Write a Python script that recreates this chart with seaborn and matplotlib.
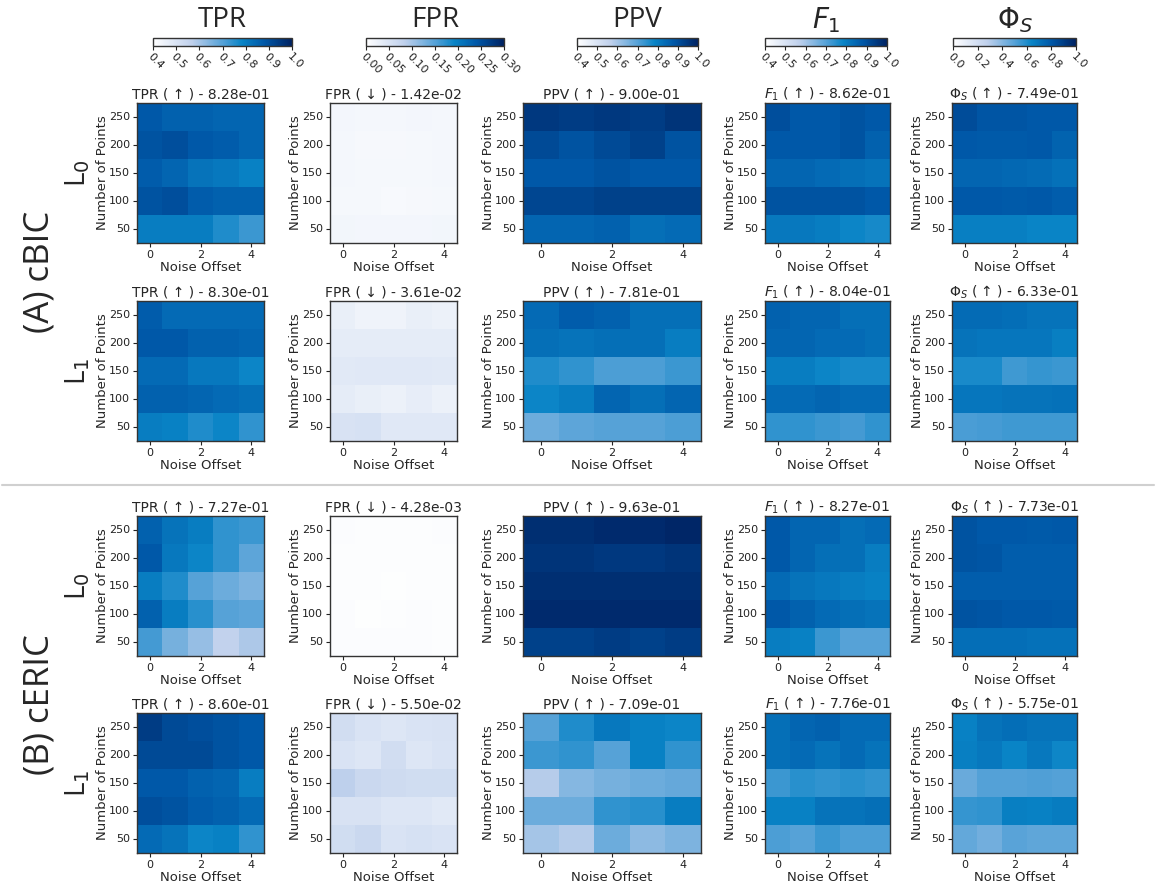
import numpy as np
import pandas as pd
import matplotlib
matplotlib.use("Agg")
import matplotlib.pyplot as plt
import seaborn as sns
from matplotlib.colors import LinearSegmentedColormap, Normalize
from matplotlib.cm import ScalarMappable

# ---------------- data ----------------
noise_offsets = [0, 1, 2, 3, 4]
n_points = [250, 200, 150, 100, 50]          # top row first
metrics = ["TPR", "FPR", "PPV", "F1", "PhiS"]
metric_labels = ["TPR", "FPR", "PPV", "$F_1$", r"$\Phi_S$"]
metric_arrows = ["↑", "↓", "↑", "↑", "↑"]
metric_ranges = [(0.4, 1.0), (0.0, 0.30), (0.4, 1.0), (0.4, 1.0), (0.0, 1.0)]
metric_ticks = [
    [0.4, 0.5, 0.6, 0.7, 0.8, 0.9, 1.0],
    [0.00, 0.05, 0.10, 0.15, 0.20, 0.25, 0.30],
    [0.4, 0.5, 0.6, 0.7, 0.8, 0.9, 1.0],
    [0.4, 0.5, 0.6, 0.7, 0.8, 0.9, 1.0],
    [0.0, 0.2, 0.4, 0.6, 0.8, 1.0],
]
metric_tickfmt = ["{:.1f}", "{:.2f}", "{:.1f}", "{:.1f}", "{:.1f}"]

methods = ["(A) cBIC", "(B) cERIC"]
penalties = ["L$_0$", "L$_1$"]

# overall scores shown in panel titles (rows: cBIC L0, cBIC L1, cERIC L0, cERIC L1)
overall_scores = [
    [8.28e-01, 1.42e-02, 9.00e-01, 8.62e-01, 7.49e-01],
    [8.30e-01, 3.61e-02, 7.81e-01, 8.04e-01, 6.33e-01],
    [7.27e-01, 4.28e-03, 9.63e-01, 8.27e-01, 7.73e-01],
    [8.60e-01, 5.50e-02, 7.09e-01, 7.76e-01, 5.75e-01],
]

# ---- cBIC, L0 ----
cbic_l0_tpr = [[0.88, 0.86, 0.86, 0.85, 0.85],
               [0.89, 0.90, 0.88, 0.87, 0.85],
               [0.87, 0.85, 0.82, 0.81, 0.79],
               [0.89, 0.90, 0.87, 0.86, 0.86],
               [0.80, 0.80, 0.80, 0.76, 0.73]]
cbic_l0_fpr = [[0.016, 0.015, 0.015, 0.016, 0.015],
               [0.015, 0.012, 0.012, 0.014, 0.015],
               [0.015, 0.014, 0.013, 0.014, 0.015],
               [0.014, 0.013, 0.011, 0.012, 0.013],
               [0.017, 0.016, 0.016, 0.016, 0.017]]
cbic_l0_ppv = [[0.95, 0.94, 0.95, 0.94, 0.96],
               [0.91, 0.89, 0.91, 0.93, 0.89],
               [0.88, 0.88, 0.89, 0.88, 0.88],
               [0.92, 0.92, 0.93, 0.93, 0.93],
               [0.85, 0.85, 0.86, 0.83, 0.84]]
cbic_l0_f1 = [[0.90, 0.88, 0.88, 0.89, 0.88],
              [0.88, 0.88, 0.88, 0.89, 0.86],
              [0.85, 0.85, 0.84, 0.83, 0.82],
              [0.89, 0.89, 0.89, 0.89, 0.88],
              [0.81, 0.81, 0.80, 0.78, 0.77]]
cbic_l0_phi = [[0.84, 0.81, 0.81, 0.80, 0.80],
               [0.80, 0.79, 0.79, 0.80, 0.76],
               [0.75, 0.75, 0.74, 0.73, 0.71],
               [0.80, 0.80, 0.79, 0.80, 0.78],
               [0.66, 0.66, 0.66, 0.64, 0.64]]

# ---- cBIC, L1 ----
cbic_l1_tpr = [[0.87, 0.84, 0.84, 0.84, 0.84],
               [0.88, 0.88, 0.86, 0.86, 0.85],
               [0.84, 0.84, 0.81, 0.81, 0.78],
               [0.86, 0.86, 0.85, 0.84, 0.83],
               [0.80, 0.79, 0.76, 0.78, 0.74]]
cbic_l1_fpr = [[0.030, 0.022, 0.022, 0.030, 0.025],
               [0.035, 0.035, 0.035, 0.035, 0.035],
               [0.040, 0.042, 0.042, 0.042, 0.040],
               [0.035, 0.030, 0.025, 0.032, 0.025],
               [0.052, 0.055, 0.042, 0.042, 0.042]]
cbic_l1_ppv = [[0.84, 0.87, 0.86, 0.83, 0.83],
               [0.83, 0.82, 0.83, 0.83, 0.80],
               [0.76, 0.74, 0.71, 0.71, 0.73],
               [0.78, 0.80, 0.85, 0.83, 0.85],
               [0.67, 0.69, 0.70, 0.70, 0.71]]
cbic_l1_f1 = [[0.86, 0.85, 0.85, 0.83, 0.83],
              [0.85, 0.85, 0.84, 0.84, 0.83],
              [0.80, 0.80, 0.78, 0.77, 0.77],
              [0.84, 0.84, 0.85, 0.84, 0.84],
              [0.74, 0.74, 0.73, 0.72, 0.74]]
cbic_l1_phi = [[0.73, 0.73, 0.72, 0.70, 0.70],
               [0.70, 0.69, 0.69, 0.69, 0.66],
               [0.61, 0.61, 0.54, 0.56, 0.55],
               [0.69, 0.69, 0.70, 0.70, 0.71],
               [0.52, 0.53, 0.54, 0.54, 0.54]]

# ---- cERIC, L0 ----
ceric_l0_tpr = [[0.86, 0.82, 0.80, 0.74, 0.73],
                [0.88, 0.81, 0.78, 0.74, 0.69],
                [0.80, 0.76, 0.70, 0.67, 0.65],
                [0.86, 0.80, 0.75, 0.70, 0.69],
                [0.72, 0.66, 0.62, 0.56, 0.59]]
ceric_l0_fpr = [[0.005, 0.004, 0.004, 0.004, 0.005],
                [0.004, 0.004, 0.004, 0.004, 0.004],
                [0.004, 0.004, 0.003, 0.004, 0.004],
                [0.005, 0.003, 0.004, 0.005, 0.004],
                [0.005, 0.005, 0.005, 0.005, 0.004]]
ceric_l0_ppv = [[0.97, 0.97, 0.98, 0.98, 0.99],
                [0.96, 0.96, 0.95, 0.95, 0.96],
                [0.97, 0.97, 0.97, 0.97, 0.97],
                [0.98, 0.98, 0.98, 0.98, 0.98],
                [0.93, 0.93, 0.94, 0.93, 0.94]]
ceric_l0_f1 = [[0.88, 0.85, 0.85, 0.83, 0.84],
               [0.88, 0.85, 0.83, 0.83, 0.80],
               [0.84, 0.82, 0.81, 0.80, 0.79],
               [0.88, 0.86, 0.84, 0.83, 0.82],
               [0.80, 0.79, 0.73, 0.70, 0.70]]
ceric_l0_phi = [[0.82, 0.80, 0.80, 0.79, 0.80],
                [0.82, 0.81, 0.78, 0.78, 0.78],
                [0.78, 0.78, 0.78, 0.78, 0.78],
                [0.82, 0.81, 0.80, 0.80, 0.79],
                [0.72, 0.72, 0.72, 0.71, 0.71]]

# ---- cERIC, L1 ----
ceric_l1_tpr = [[0.94, 0.91, 0.90, 0.89, 0.88],
                [0.91, 0.91, 0.91, 0.89, 0.88],
                [0.88, 0.88, 0.86, 0.85, 0.80],
                [0.90, 0.89, 0.87, 0.86, 0.84],
                [0.84, 0.82, 0.78, 0.79, 0.74]]
ceric_l1_fpr = [[0.060, 0.050, 0.045, 0.050, 0.052],
                [0.050, 0.045, 0.060, 0.045, 0.050],
                [0.085, 0.070, 0.065, 0.062, 0.062],
                [0.052, 0.052, 0.045, 0.045, 0.040],
                [0.062, 0.070, 0.050, 0.055, 0.050]]
ceric_l1_ppv = [[0.70, 0.76, 0.81, 0.79, 0.78],
                [0.73, 0.74, 0.70, 0.79, 0.74],
                [0.58, 0.64, 0.66, 0.67, 0.68],
                [0.67, 0.67, 0.74, 0.75, 0.80],
                [0.60, 0.58, 0.67, 0.63, 0.65]]
ceric_l1_f1 = [[0.83, 0.85, 0.86, 0.84, 0.84],
               [0.83, 0.84, 0.82, 0.84, 0.82],
               [0.73, 0.75, 0.74, 0.75, 0.74],
               [0.79, 0.79, 0.82, 0.82, 0.83],
               [0.71, 0.70, 0.73, 0.71, 0.71]]
ceric_l1_phi = [[0.65, 0.70, 0.72, 0.70, 0.70],
                [0.66, 0.68, 0.64, 0.68, 0.63],
                [0.46, 0.50, 0.50, 0.51, 0.50],
                [0.56, 0.57, 0.66, 0.65, 0.67],
                [0.47, 0.44, 0.49, 0.48, 0.48]]

grids = [
    [cbic_l0_tpr, cbic_l0_fpr, cbic_l0_ppv, cbic_l0_f1, cbic_l0_phi],
    [cbic_l1_tpr, cbic_l1_fpr, cbic_l1_ppv, cbic_l1_f1, cbic_l1_phi],
    [ceric_l0_tpr, ceric_l0_fpr, ceric_l0_ppv, ceric_l0_f1, ceric_l0_phi],
    [ceric_l1_tpr, ceric_l1_fpr, ceric_l1_ppv, ceric_l1_f1, ceric_l1_phi],
]

# ---------------- styling ----------------
sns.set_theme(style="white")
plt.rcParams["font.family"] = ["DejaVu Sans"]

cmap = LinearSegmentedColormap.from_list(
    "metric_blues",
    [(0.00, "#ffffff"), (0.28, "#bfd0ec"), (0.52, "#4b9dd5"),
     (0.64, "#0984c6"), (0.80, "#0058a8"), (1.00, "#002262")])

W, H = 1156, 886
fig = plt.figure(figsize=(W / 100, H / 100), dpi=100)


def box(l, t, r, b):
    return [l / W, 1 - b / H, (r - l) / W, (b - t) / H]


col_heat_x = [(137, 264), (330, 457), (523, 701), (765, 890), (952, 1077)]
col_cbar_x = [(153, 292), (366, 504), (577, 698), (765, 887), (953, 1076)]
row_heat_y = [(103, 243), (301, 441), (516, 656), (713, 853)]

# column headers with colour bars
for j in range(5):
    l, r = col_cbar_x[j]
    vmin, vmax = metric_ranges[j]
    cax = fig.add_axes(box(l, 38, r, 46))
    sm = ScalarMappable(norm=Normalize(vmin, vmax), cmap=cmap)
    cb = fig.colorbar(sm, cax=cax, orientation="horizontal")
    cb.set_ticks(metric_ticks[j])
    cb.set_ticklabels([metric_tickfmt[j].format(t) for t in metric_ticks[j]])
    cax.tick_params(axis="x", labelsize=8, rotation=-45, length=3, width=0.8,
                    pad=1, colors="#222222")
    for lab in cax.get_xticklabels():
        lab.set_ha("left")
        lab.set_rotation_mode("anchor")
    cb.outline.set_edgecolor("#333333")
    cb.outline.set_linewidth(1.0)
    fig.text((l + r) / 2 / W, 1 - 20 / H, metric_labels[j], ha="center",
             va="center", fontsize=20, family=["Open Sans", "DejaVu Sans"])

# heatmap panels
for i in range(4):
    t, b = row_heat_y[i]
    for j in range(5):
        l, r = col_heat_x[j]
        ax = fig.add_axes(box(l, t, r, b))
        vmin, vmax = metric_ranges[j]
        df = pd.DataFrame(grids[i][j], index=n_points, columns=noise_offsets)
        sns.heatmap(df, ax=ax, cmap=cmap, vmin=vmin, vmax=vmax, cbar=False,
                    square=False, linewidths=0)
        ax.set_xticks([0.5, 2.5, 4.5])
        ax.set_xticklabels(["0", "2", "4"], rotation=0)
        ax.set_yticks([k + 0.5 for k in range(5)])
        ax.set_yticklabels([str(v) for v in n_points], rotation=0)
        ax.tick_params(axis="both", labelsize=8, length=3, width=0.8,
                       colors="#222222", pad=2)
        ax.tick_params(axis="both", bottom=True, left=True)
        ax.set_xlabel("Noise Offset", fontsize=9.5, labelpad=1)
        ax.set_ylabel("Number of Points", fontsize=9.5, labelpad=0)
        for sp in ax.spines.values():
            sp.set_visible(True)
            sp.set_edgecolor("#333333")
            sp.set_linewidth(1.0)
        score = overall_scores[i][j]
        ax.set_title(f"{metric_labels[j]} ( {metric_arrows[j]} ) - {score:.2e}",
                     fontsize=10, pad=3)

# row annotations
for i in range(4):
    t, b = row_heat_y[i]
    fig.text(78 / W, 1 - (t + b) / 2 / H, penalties[i % 2], rotation=90,
             ha="center", va="center", fontsize=20,
             family=["Open Sans", "DejaVu Sans"])

fig.text(40 / W, 1 - 272 / H, methods[0], rotation=90, ha="center",
         va="center", fontsize=25, family=["Open Sans", "DejaVu Sans"])
fig.text(40 / W, 1 - 705 / H, methods[1], rotation=90, ha="center",
         va="center", fontsize=25, family=["Open Sans", "DejaVu Sans"])

# separator between the two method blocks
fig.add_artist(plt.Line2D([2 / W, 1154 / W], [1 - 485 / H, 1 - 485 / H],
                          color="#d0d0d0", linewidth=1.5))

fig.savefig("out.png", dpi=100, facecolor="white")
